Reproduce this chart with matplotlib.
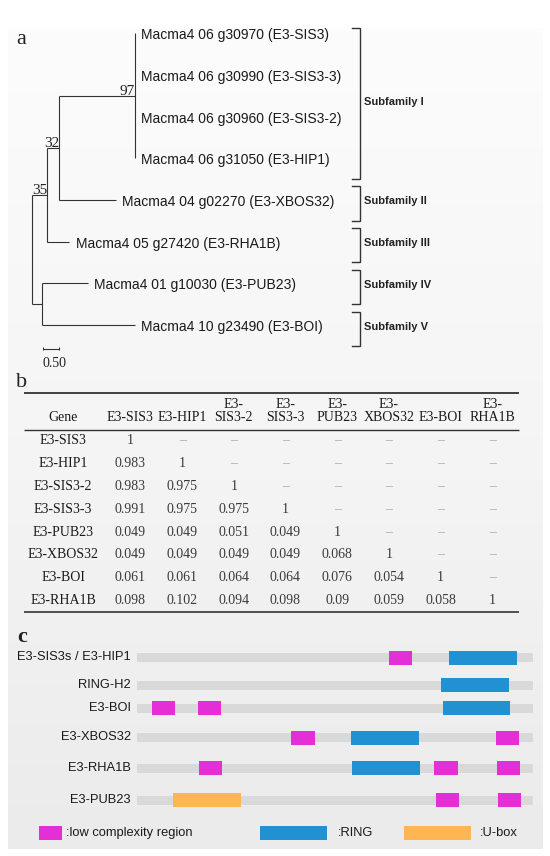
import matplotlib
matplotlib.use("Agg")
import numpy as np
import matplotlib.pyplot as plt
import matplotlib.transforms as mtransforms
from matplotlib.colors import LinearSegmentedColormap

# ======================= DATA =======================
# (a) phylogenetic tree
LEAF_IDS = ["Macma4 06 g30970", "Macma4 06 g30990", "Macma4 06 g30960", "Macma4 06 g31050",
            "Macma4 04 g02270", "Macma4 05 g27420", "Macma4 01 g10030", "Macma4 10 g23490"]
LEAF_NAMES = ["E3-SIS3", "E3-SIS3-3", "E3-SIS3-2", "E3-HIP1",
              "E3-XBOS32", "E3-RHA1B", "E3-PUB23", "E3-BOI"]
# internal node: (bootstrap label, branch length, children); leaf: (leaf index, branch length)
TREE = ("", 0.0, [
    ("35", 0.49, [
        ("32", 0.366, [
            ("97", 2.37, [(0, 0.0), (1, 0.0), (2, 0.0), (3, 0.0)]),
            (4, 1.77),
        ]),
        (5, 0.69),
    ]),
    ("", 0.33, [(6, 1.42), (7, 2.90)]),
])
SUBFAMILIES = ["Subfamily I", "Subfamily II", "Subfamily III", "Subfamily IV", "Subfamily V"]
SUBFAMILY_FIRST = [0, 4, 5, 6, 7]
SUBFAMILY_LAST = [3, 4, 5, 6, 7]
SCALE_BAR = 0.50

# (b) identity matrix
GENES = ["E3-SIS3", "E3-HIP1", "E3-SIS3-2", "E3-SIS3-3", "E3-PUB23", "E3-XBOS32", "E3-BOI", "E3-RHA1B"]
HEADERS = ["E3-SIS3", "E3-HIP1", "E3-\nSIS3-2", "E3-\nSIS3-3", "E3-\nPUB23", "E3-\nXBOS32", "E3-BOI", "E3-\nRHA1B"]
IDENTITY = [
    [1],
    [0.983, 1],
    [0.983, 0.975, 1],
    [0.991, 0.975, 0.975, 1],
    [0.049, 0.049, 0.051, 0.049, 1],
    [0.049, 0.049, 0.049, 0.049, 0.068, 1],
    [0.061, 0.061, 0.064, 0.064, 0.076, 0.054, 1],
    [0.098, 0.102, 0.094, 0.098, 0.09, 0.059, 0.058, 1],
]

# (c) domain architecture (positions in % of protein length)
DOMAIN_PROTEINS = ["E3-SIS3s / E3-HIP1", "RING-H2", "E3-BOI", "E3-XBOS32", "E3-RHA1B", "E3-PUB23"]
LCR_SPANS = [[(63.6, 69.4)], [], [(3.8, 9.6), (15.4, 21.2)], [(38.9, 44.9), (90.7, 96.5)],
             [(15.7, 21.5), (75.0, 81.1), (90.9, 96.7)], [(75.5, 81.3), (91.2, 97.0)]]
RING_SPANS = [[(78.8, 96.0)], [(76.8, 93.9)], [(77.3, 94.2)], [(54.0, 71.2)], [(54.3, 71.5)], []]
UBOX_SPANS = [[], [], [], [], [], [(9.1, 26.3)]]
LEGEND_LABELS = [":low complexity region", ":RING", ":U-box"]

# ======================= STYLE / LAYOUT =======================
W, H = 550, 856
C_LCR, C_RING, C_UBOX, C_BAR = "#e42fd7", "#2191d1", "#fdb652", "#d9d9d9"
LINE = "#333333"
SANS = "Liberation Sans"
SERIF = "Liberation Serif"

fig = plt.figure(figsize=(W / 100, H / 100), dpi=100)
fig.patch.set_facecolor("white")


def px_axes(x0, y0, x1, y1):
    ax = fig.add_axes([x0 / W, 1 - y1 / H, (x1 - x0) / W, (y1 - y0) / H])
    ax.set_axis_off()
    ax.patch.set_alpha(0)
    return ax


# background panel
bg = px_axes(0, 0, W, H)
cmap = LinearSegmentedColormap.from_list("bg", ["#fcfcfc", "#f5f5f5", "#ebebeb"])
bg.imshow(np.linspace(0, 1, 256)[:, None], extent=(7.5, 542, 849, 28.5), cmap=cmap,
          aspect="auto", interpolation="bilinear")
bg.set_xlim(0, W)
bg.set_ylim(H, 0)

# panel letters
fig.text(16 / W, 1 - 44 / H, "a", family=SERIF, fontsize=16, va="baseline", color="#222")
fig.text(16 / W, 1 - 387 / H, "b", family=SERIF, fontsize=16, va="baseline", color="#222")
fig.text(17 / W, 1 - 642 / H, "c", family=SERIF, fontsize=16, va="baseline", color="#222",
         weight="bold")

# ---------------- (a) tree ----------------
UNIT_PX, ROOT_PX = 32.0, 31.6
ROW0_PX, ROW_PX = 33.0, 41.7
tx = px_axes(0, 0, W, 380)
tx.set_xlim(-ROOT_PX / UNIT_PX, (W - ROOT_PX) / UNIT_PX)
tx.set_ylim((380 - ROW0_PX) / ROW_PX, -ROW0_PX / ROW_PX)

leaf_x = {}
lkw = dict(color=LINE, lw=0.8, solid_capstyle="butt")


def draw_node(node, x0):
    if isinstance(node[0], int):
        idx, bl = node
        x = x0 + bl
        tx.plot([x0, x], [idx, idx], **lkw)
        leaf_x[idx] = x
        return idx
    boot, bl, children = node
    x = x0 + bl
    ys = [draw_node(c, x) for c in children]
    y = float(np.mean(ys))
    tx.plot([x, x], [min(ys), max(ys)], **lkw)
    if bl > 0:
        tx.plot([x0, x], [y, y], **lkw)
    if boot:
        tx.annotate(boot, (x, y), xytext=(0, 0.6), textcoords="offset points",
                    ha="right", va="baseline", family=SERIF, fontsize=11, color="#222")
    return y


draw_node(TREE, 0.0)

for i, (gid, name) in enumerate(zip(LEAF_IDS, LEAF_NAMES)):
    tx.annotate(f"{gid} ({name})", (leaf_x[i], i), xytext=(4.5, -1.6),
                textcoords="offset points", ha="left", va="center",
                family=SANS, fontsize=10, color="#1a1a1a")

# subfamily brackets
bt = mtransforms.blended_transform_factory(tx.transAxes, tx.transData)
bx, tick = 360 / W, 8 / W
for name, a, b in zip(SUBFAMILIES, SUBFAMILY_FIRST, SUBFAMILY_LAST):
    top = max(a - 0.32, -0.11)
    bot = b + 0.5
    tx.plot([bx - tick, bx, bx, bx - tick], [top, top, bot, bot], transform=bt,
            color=LINE, lw=1.0, solid_joinstyle="miter")
    tx.text(bx + 4 / W, (top + bot) / 2 - 0.05, name, transform=bt, ha="left", va="center",
            family=SANS, fontsize=8, weight="bold", color="#222")

# scale bar
sb_x0, sb_y = 0.36, 7.58
tx.plot([sb_x0, sb_x0 + SCALE_BAR], [sb_y, sb_y], **lkw)
for xx in (sb_x0, sb_x0 + SCALE_BAR):
    tx.plot([xx, xx], [sb_y - 0.06, sb_y + 0.02], **lkw)
tx.annotate(f"{SCALE_BAR:.2f}", (sb_x0, sb_y), xytext=(-0.6, -10.2), textcoords="offset points",
            ha="left", va="center", family=SERIF, fontsize=10, color="#222")

# ---------------- (b) table ----------------
COL0_PX, COL_STEP = 130.4, 51.7
ROWT0_PX, ROWT_STEP = 441.0, 22.8
tb = px_axes(0, 380, W, 625)
tb.set_xlim(-COL0_PX / COL_STEP, (W - COL0_PX) / COL_STEP)
tb.set_ylim((625 - ROWT0_PX) / ROWT_STEP, (380 - ROWT0_PX) / ROWT_STEP)
gene_col = (63 - COL0_PX) / COL_STEP
rx0, rx1 = (24 - COL0_PX) / COL_STEP, (519 - COL0_PX) / COL_STEP

tb.hlines([(393 - ROWT0_PX) / ROWT_STEP], rx0, rx1, color="#333", lw=1.3)
tb.hlines([(430 - ROWT0_PX) / ROWT_STEP], rx0, rx1, color="#333", lw=1.0)
tb.hlines([len(GENES) - 0.5], rx0, rx1, color="#444", lw=1.3)

hdr_y = (424 - ROWT0_PX) / ROWT_STEP
tkw = dict(family=SERIF, fontsize=10)
tb.text(gene_col, hdr_y, "Gene", ha="center", va="bottom", color="#1a1a1a", **tkw)
for j, h in enumerate(HEADERS):
    tb.text(j, hdr_y, h, ha="center", va="bottom", multialignment="center",
            color="#1a1a1a", linespacing=1.0, **tkw)
for i, g in enumerate(GENES):
    tb.text(gene_col, i, g, ha="center", va="center", color="#1a1a1a", **tkw)
    for j in range(len(GENES)):
        if j < len(IDENTITY[i]):
            tb.text(j, i, f"{IDENTITY[i][j]:g}", ha="center", va="center", color="#3a3a3a", **tkw)
        else:
            tb.text(j, i, "\u2013", ha="center", va="center", color="#aaaaaa", **tkw)

# ---------------- (c) domains ----------------
dm = px_axes(137, 620, 533, 856)
dm.set_xlim(0, 100)
dm.set_ylim(856, 620)
ROW_Y = [657.5, 685, 708, 737.5, 768.3, 800]
for k, name in enumerate(DOMAIN_PROTEINS):
    y = ROW_Y[k]
    dm.barh(y, 100, left=0, height=9, color=C_BAR)
    for spans, col in ((LCR_SPANS, C_LCR), (RING_SPANS, C_RING), (UBOX_SPANS, C_UBOX)):
        for s, e in spans[k]:
            dm.barh(y, e - s, left=s, height=14, color=col)
    dm.annotate(name, (0, y), xytext=(-4.4, 0), textcoords="offset points", ha="right",
                va="center", family=SANS, fontsize=9.3, color="#1a1a1a", annotation_clip=False)

# legend
lg = px_axes(0, 812, W, 852)
lg.set_xlim(0, W)
lg.set_ylim(852, 812)
LEG_BOX_X = [39, 260, 404]
LEG_BOX_W = [23, 67, 67]
LEG_TEXT_X = [66, 338, 480]
for lab, col, x0, w, xt in zip(LEGEND_LABELS, [C_LCR, C_RING, C_UBOX], LEG_BOX_X, LEG_BOX_W, LEG_TEXT_X):
    lg.barh(833, w, left=x0, height=14.5, color=col)
    lg.text(xt, 833, lab, ha="left", va="center", family=SANS, fontsize=9.3, color="#1a1a1a")

fig.savefig("out.png", dpi=100, facecolor="white")
